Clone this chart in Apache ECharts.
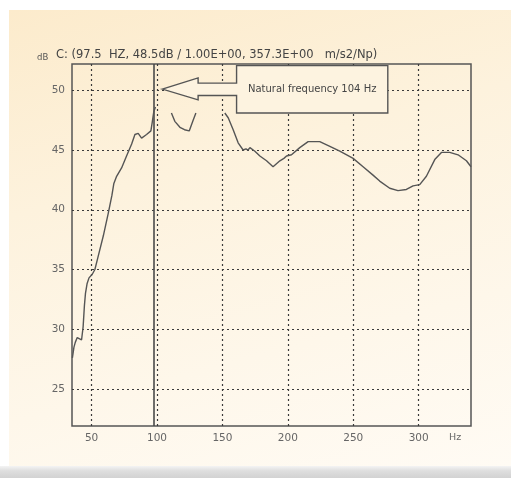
<!DOCTYPE html>
<html>
<head>
<meta charset="utf-8">
<script src="https://cdn.jsdelivr.net/npm/echarts@6/dist/echarts.min.js"></script>
<style>
html,body{margin:0;padding:0;background:#ffffff;width:511px;height:478px;overflow:hidden;}
#panel{position:absolute;left:9px;top:10px;width:502px;height:456px;
 background:linear-gradient(165deg,#fcebcc 0%,#fdf2dd 35%,#fef7ea 70%,#fffbf4 100%);}
#bar{position:absolute;left:0;top:466px;width:511px;height:12px;
 background:linear-gradient(to bottom,#f4f4f4 0%,#dedede 40%,#d2d2d2 100%);}
#chart{position:absolute;left:0;top:0;width:511px;height:478px;}
</style>
</head>
<body>
<div id="panel"></div>
<div id="bar"></div>
<div id="chart"></div>
<script>
// ---- data ----
const freqHz = [
  35.3, 36.5, 37.5, 39.0, 40.5, 42.3, 43.5, 44.5, 45.3, 46.5, 48.0, 50.5, 52.5, 55.0,
  58.9, 62.7, 65.5, 67.0, 69.1, 72.9, 76.7, 80.6, 83.1, 85.6, 88.2, 92.0, 95.3, 96.3,
  97.5, 98.8,
  105.0,
  111.0, 113.6, 117.5, 121.0, 124.6, 127.6, 129.7,
  140.0,
  151.8, 154.4, 158.2, 162.0, 165.8, 168.0, 169.6, 171.0, 174.8, 178.6, 183.7, 188.7,
  193.9, 197.0, 199.0, 202.8, 209.1, 215.5, 224.4, 232.1, 239.7, 249.9, 257.5, 265.1,
  270.2, 277.9, 284.2, 290.6, 295.7, 300.8, 305.9, 312.3, 317.4, 323.7, 330.1, 336.5, 340.0
];
const levelDb = [
  27.6, 28.5, 28.9, 29.3, 29.3, 29.1, 30.2, 32.0, 33.0, 33.8, 34.3, 34.6, 35.0, 36.1,
  37.8, 39.7, 41.2, 42.2, 42.8, 43.5, 44.5, 45.5, 46.3, 46.4, 46.0, 46.3, 46.6, 47.3,
  48.2, 48.6,
  null,
  48.1, 47.4, 46.9, 46.7, 46.6, 47.5, 48.1,
  null,
  48.1, 47.7, 46.7, 45.6, 45.0, 45.1, 45.0, 45.2, 44.9, 44.5, 44.1, 43.6,
  44.1, 44.3, 44.5, 44.6, 45.2, 45.7, 45.7, 45.3, 44.9, 44.3, 43.6, 42.9,
  42.4, 41.8, 41.6, 41.7, 42.0, 42.1, 42.8, 44.2, 44.8, 44.8, 44.6, 44.1, 43.6
];
const xTicks = [50, 100, 150, 200, 250, 300];
const yTicks = [25, 30, 35, 40, 45, 50];
const cursorHz = 97.5;
const naturalHz = 104;
const naturalDb = 50.1;
const titleText = 'C: (97.5  HZ, 48.5dB / 1.00E+00, 357.3E+00   m/s2/Np)';
const annotationText = 'Natural frequency 104 Hz';

const X_MIN = 35, X_MAX = 340, Y_MIN = 21.9, Y_MAX = 52.2;
const ink = '#4a4a4a';
const FONT = 'DejaVu Sans, Verdana, sans-serif';
const gridStyle = {color: '#3a3a3a', width: 1.2, type: [2, 3]};

const chart = echarts.init(document.getElementById('chart'), null, {renderer: 'canvas'});

const markLines = [];
xTicks.forEach(v => markLines.push({xAxis: v, lineStyle: gridStyle}));
yTicks.forEach(v => markLines.push({yAxis: v, lineStyle: gridStyle}));
markLines.push({xAxis: cursorHz, lineStyle: {color: ink, width: 1.6, type: 'solid'}});

const option = {
  animation: false,
  backgroundColor: 'transparent',
  textStyle: {fontFamily: FONT},
  title: [
    {text: titleText, left: 56, top: 49, padding: 0,
     textStyle: {fontSize: 11.5, fontWeight: 'normal', color: '#444', fontFamily: FONT}},
    {text: 'dB', left: 37, top: 53, padding: 0,
     textStyle: {fontSize: 8.5, fontWeight: 'normal', color: '#555', fontFamily: FONT}},
    {text: 'Hz', left: 449, top: 433, padding: 0,
     textStyle: {fontSize: 9.5, fontWeight: 'normal', color: '#666', fontFamily: FONT}}
  ],
  grid: {left: 72, top: 64, right: 40, bottom: 52, show: true,
         borderColor: '#555', borderWidth: 1.5, backgroundColor: 'transparent'},
  xAxis: {
    type: 'value', min: X_MIN, max: X_MAX,
    axisLine: {show: false}, axisTick: {show: false}, splitLine: {show: false},
    axisLabel: {customValues: xTicks, color: '#666', fontSize: 10.5, margin: 7, fontFamily: FONT}
  },
  yAxis: {
    type: 'value', min: Y_MIN, max: Y_MAX,
    axisLine: {show: false}, axisTick: {show: false}, splitLine: {show: false},
    axisLabel: {customValues: yTicks, color: '#666', fontSize: 10.5, margin: 7, fontFamily: FONT}
  },
  series: [{
    type: 'line',
    data: freqHz.map((f, i) => [f, levelDb[i]]),
    connectNulls: false,
    showSymbol: false,
    symbol: 'none',
    lineStyle: {color: '#555', width: 1.4},
    z: 3,
    markLine: {
      silent: true, symbol: ['none', 'none'], label: {show: false},
      animation: false, data: markLines, z: 1
    }
  }]
};
chart.setOption(option);

// annotation drawn from data coordinates
function px(hz, db) { return chart.convertToPixel({gridIndex: 0}, [hz, db]); }
const headBackHz = 131.4, boxLeftHz = 160.8, boxRightHz = 276.4;
const boxTopDb = 52.06, boxBottomDb = 48.1;
const headTopDb = 51.04, headBottomDb = 49.2, shaftTopDb = 50.6, shaftBottomDb = 49.56;
const pts = [
  px(naturalHz, naturalDb),
  px(headBackHz, headTopDb),
  px(headBackHz, shaftTopDb),
  px(boxLeftHz, shaftTopDb),
  px(boxLeftHz, boxTopDb),
  px(boxRightHz, boxTopDb),
  px(boxRightHz, boxBottomDb),
  px(boxLeftHz, boxBottomDb),
  px(boxLeftHz, shaftBottomDb),
  px(headBackHz, shaftBottomDb),
  px(headBackHz, headBottomDb)
];
const textPos = px((boxLeftHz + boxRightHz) / 2, (boxTopDb + boxBottomDb) / 2);
chart.setOption({
  graphic: [
    {type: 'polygon', shape: {points: pts}, z: 10,
     style: {fill: '#fdf3e0', stroke: '#555', lineWidth: 1.4}},
    {type: 'text', x: textPos[0], y: textPos[1], z: 11,
     style: {text: annotationText, fill: '#444', fontSize: 10,
             fontFamily: FONT, align: 'center', verticalAlign: 'middle'}}
  ]
});
</script>
</body>
</html>
